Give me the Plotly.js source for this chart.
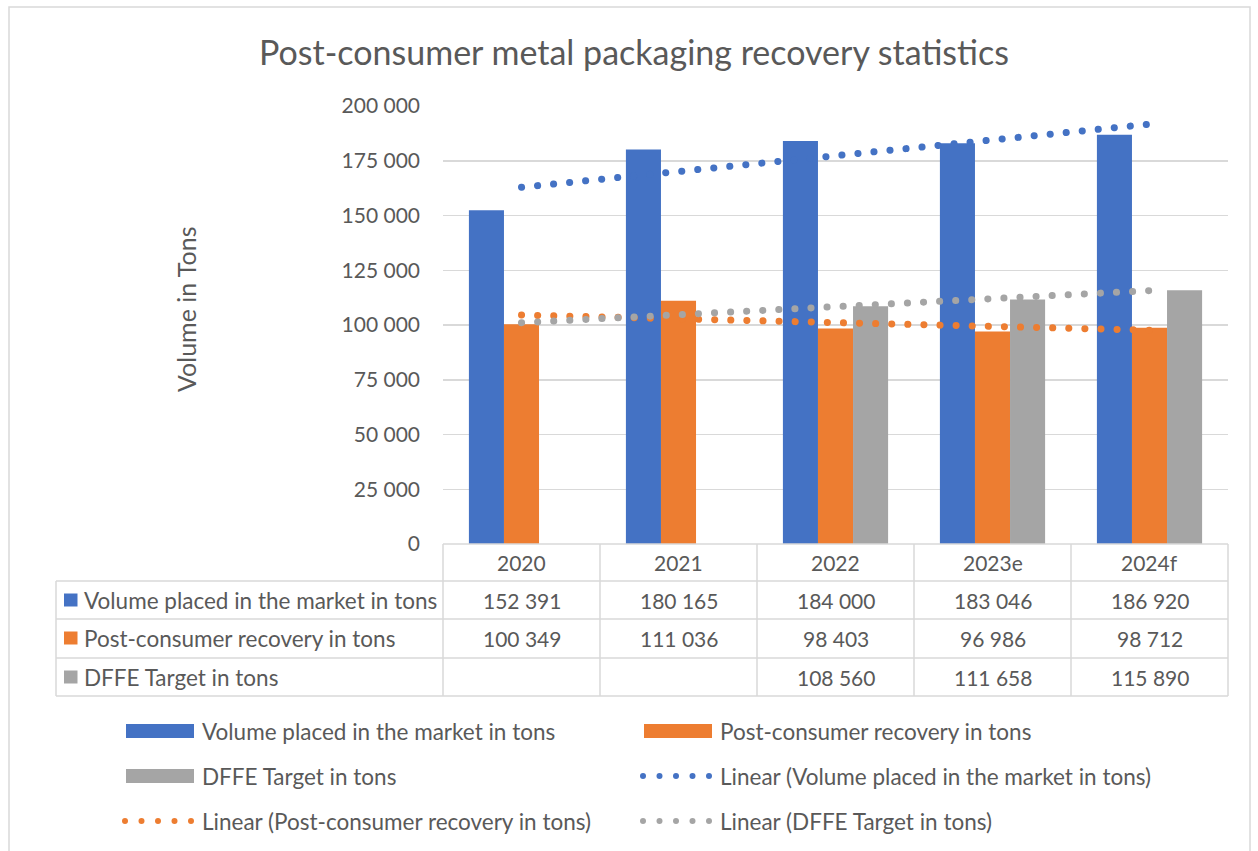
<!DOCTYPE html>
<html>
<head>
<meta charset="utf-8">
<script src="https://cdn.plot.ly/plotly-3.0.1.min.js"></script>
<style>
  html, body { margin: 0; padding: 0; background: #fff; }
  #chart { width: 1258px; height: 851px; }
  .scatterlayer .js-line { stroke-linecap: round !important; }
</style>
</head>
<body>
<div id="chart"></div>
<script>
// ---------- data ----------
const categories = ['2020', '2021', '2022', '2023e', '2024f'];
const volumePlaced = [152391, 180165, 184000, 183046, 186920];
const recovery = [100349, 111036, 98403, 96986, 98712];
const dffeTarget = [null, null, 108560, 111658, 115890];
// linear trend values read at the first and last category
const trendVolume = [162900, 191700];
const trendRecovery = [104560, 97630];
const trendDffe = [101040, 115700];
const seriesNames = ['Volume placed in the market in tons', 'Post-consumer recovery in tons', 'DFFE Target in tons'];
const trendNames = ['Linear (Volume placed in the market in tons)', 'Linear (Post-consumer recovery in tons)', 'Linear (DFFE Target in tons)'];
const chartTitle = 'Post-consumer metal packaging recovery statistics';
const yTitle = 'Volume in Tons';

// ---------- style ----------
const colors = ['#4472C4', '#ED7D31', '#A5A5A5'];
const textColor = '#595959';
const gridColor = '#D9D9D9';
const FONT = 'Lato, "Open Sans", sans-serif';
const FS_TEXT = 22.5;
const FS_NUM = 21;

// plot area in pixels
const L = 443, R = 1228, T = 106, B = 544, W = 1258, H = 851;
const px = x => (x - L) / (R - L);
const py = y => (B - y) / (B - T);

const fmt = v => (v === null || v === undefined) ? '' : String(v).replace(/\B(?=(\d{3})+(?!\d))/g, ' ');

const seriesData = [volumePlaced, recovery, dffeTarget];
const trendData = [trendVolume, trendRecovery, trendDffe];
const trendX = [categories[0], categories[categories.length - 1]];

const traces = [];
seriesData.forEach((vals, i) => {
  traces.push({
    type: 'bar', x: categories, y: vals, name: seriesNames[i],
    marker: { color: colors[i] }, hoverinfo: 'none'
  });
});
trendData.forEach((vals, i) => {
  traces.push({
    type: 'scatter', mode: 'lines', x: trendX, y: vals, name: trendNames[i],
    line: { color: colors[i], width: 7, dash: '0.1px,16px' }, hoverinfo: 'none'
  });
});

const shapes = [];
const annotations = [];
const lineStyle = { color: gridColor, width: 1.5 };
function hLine(x0, x1, y) {
  shapes.push({ type: 'line', xref: 'paper', yref: 'paper', x0: px(x0), x1: px(x1), y0: py(y), y1: py(y), line: lineStyle });
}
function vLinePaper(xp, y0, y1) {
  shapes.push({ type: 'line', xref: 'paper', yref: 'paper', x0: xp, x1: xp, y0: py(y0), y1: py(y1), line: lineStyle });
}

// outer chart border
shapes.push({ type: 'rect', xref: 'paper', yref: 'paper', x0: px(9), x1: px(1250), y0: py(7), y1: py(852), line: { color: gridColor, width: 1.5 } });

// data table grid
const rowLines = [544, 581, 619, 658, 696];
const rowCenters = [562, 600, 638, 677];
hLine(L, R, rowLines[0]);
for (let k = 1; k < rowLines.length; k++) hLine(56, R, rowLines[k]);
vLinePaper(px(56), 581, 696);
for (let k = 0; k <= categories.length; k++) vLinePaper(k / categories.length, 544, 696);

// category header labels (category index on the x axis)
categories.forEach((c, j) => {
  annotations.push({ xref: 'x', yref: 'paper', x: j, y: py(rowCenters[0]), text: c, showarrow: false,
    xanchor: 'center', yanchor: 'middle', font: { family: FONT, size: FS_NUM, color: textColor } });
});
// row headers and values
seriesNames.forEach((name, i) => {
  const yc = rowCenters[i + 1];
  shapes.push({ type: 'rect', xref: 'paper', yref: 'paper', x0: px(64), x1: px(77.5), y0: py(yc - 6.5), y1: py(yc + 6.5),
    fillcolor: colors[i], line: { width: 0 } });
  annotations.push({ xref: 'paper', yref: 'paper', x: px(82), y: py(yc), text: name, showarrow: false,
    xanchor: 'left', yanchor: 'middle', font: { family: FONT, size: FS_TEXT, color: textColor } });
  seriesData[i].forEach((v, j) => {
    if (v === null) return;
    annotations.push({ xref: 'x', yref: 'paper', x: j, y: py(yc), text: fmt(v), showarrow: false,
      xanchor: 'center', yanchor: 'middle', font: { family: FONT, size: FS_NUM, color: textColor } });
  });
});

// title and y-axis title
annotations.push({ xref: 'paper', yref: 'paper', x: px(633.5), y: py(52), text: chartTitle, showarrow: false,
  xanchor: 'center', yanchor: 'middle', font: { family: FONT, size: 34, color: textColor } });
annotations.push({ xref: 'paper', yref: 'paper', x: px(186), y: py(309), text: yTitle, showarrow: false, textangle: -90,
  xanchor: 'center', yanchor: 'middle', font: { family: FONT, size: 25, color: textColor } });

// legend (manual, two columns)
const legendItems = [
  { kind: 'bar', color: colors[0], text: seriesNames[0], col: 0, row: 0 },
  { kind: 'bar', color: colors[1], text: seriesNames[1], col: 1, row: 0 },
  { kind: 'bar', color: colors[2], text: seriesNames[2], col: 0, row: 1 },
  { kind: 'dots', color: colors[0], text: trendNames[0], col: 1, row: 1 },
  { kind: 'dots', color: colors[1], text: trendNames[1], col: 0, row: 2 },
  { kind: 'dots', color: colors[2], text: trendNames[2], col: 1, row: 2 }
];
const legRowY = [731, 776, 821];
const legColX = [[126, 194, 200], [644, 712, 718]];
legendItems.forEach(it => {
  const [a, b, tx] = legColX[it.col];
  const yc = legRowY[it.row];
  if (it.kind === 'bar') {
    shapes.push({ type: 'rect', xref: 'paper', yref: 'paper', x0: px(a), x1: px(b), y0: py(yc - 7), y1: py(yc + 7),
      fillcolor: it.color, line: { width: 0 } });
  } else {
    for (let k = 0; k < 5; k++) {
      const cx = a - 1 + k * 16.5;
      shapes.push({ type: 'circle', xref: 'paper', yref: 'paper', x0: px(cx - 3), x1: px(cx + 3), y0: py(yc - 3), y1: py(yc + 3),
        fillcolor: it.color, line: { width: 0 } });
    }
  }
  annotations.push({ xref: 'paper', yref: 'paper', x: px(tx), y: py(yc), text: it.text, showarrow: false,
    xanchor: 'left', yanchor: 'middle', font: { family: FONT, size: FS_TEXT, color: textColor } });
});

const layout = {
  width: W, height: H,
  margin: { l: L, r: W - R, t: T, b: H - B, pad: 0 },
  paper_bgcolor: '#ffffff', plot_bgcolor: '#ffffff',
  showlegend: false,
  separators: '. ',
  barmode: 'group', bargap: 0.33, bargroupgap: 0,
  font: { family: FONT, size: FS_NUM, color: textColor },
  xaxis: {
    type: 'category', categoryorder: 'array', categoryarray: categories,
    range: [-0.5, categories.length - 0.5],
    showticklabels: false, showgrid: false, zeroline: false, showline: false, ticks: ''
  },
  yaxis: {
    range: [0, 200000], dtick: 25000, tickformat: ',d',
    showgrid: true, gridcolor: gridColor, gridwidth: 1.5, zeroline: false, showline: false, ticks: '',
    ticklabelstandoff: 22,
    tickfont: { family: FONT, size: FS_NUM, color: textColor }
  },
  shapes: shapes,
  annotations: annotations,
  hovermode: false
};

Plotly.newPlot('chart', traces, layout, { displayModeBar: false, staticPlot: true });
</script>
</body>
</html>
